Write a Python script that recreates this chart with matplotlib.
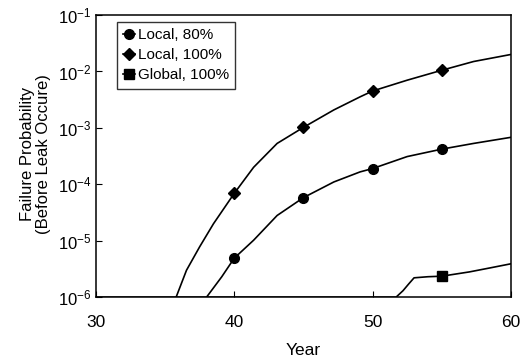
import numpy as np
import matplotlib
matplotlib.use("Agg")
import matplotlib.pyplot as plt

plt.rcParams["font.family"] = ["Liberation Sans", "DejaVu Sans"]
plt.rcParams["mathtext.fontset"] = "custom"
plt.rcParams["mathtext.rm"] = "Liberation Sans"

# Local, 100% (upper curve, diamonds)
local100_years = [35.8, 36.55, 37.5, 38.5, 40, 41.4, 43.1, 45, 47.2, 49.1, 50,
                  52.5, 55, 57.3, 60]
local100_prob = [1e-6, 3.0e-6, 7.8e-6, 2.0e-5, 6.9e-5, 2.0e-4, 5.3e-4, 1.02e-3,
                 2.08e-3, 3.55e-3, 4.5e-3, 7.0e-3, 1.05e-2, 1.5e-2, 2.0e-2]
local100_mark_years = [40, 45, 50, 55]
local100_mark_prob = [6.9e-5, 1.02e-3, 4.5e-3, 1.05e-2]

# Local, 80% (lower curve, circles)
local80_years = [38.0, 39.1, 40, 41.4, 43.1, 45, 47.2, 49.1, 50, 52.5, 55,
                 57.3, 60]
local80_prob = [1e-6, 2.3e-6, 4.9e-6, 1.02e-5, 2.8e-5, 5.8e-5, 1.1e-4, 1.66e-4,
                1.9e-4, 3.1e-4, 4.2e-4, 5.3e-4, 6.8e-4]
local80_mark_years = [40, 45, 50, 55]
local80_mark_prob = [4.9e-6, 5.8e-5, 1.9e-4, 4.2e-4]

# Global, 100% (squares)
global100_years = [30, 51.7, 52.2, 52.6, 53.0, 54.0, 55, 57, 58.5, 60]
global100_prob = [1e-6, 1e-6, 1.3e-6, 1.7e-6, 2.2e-6, 2.3e-6, 2.35e-6, 2.8e-6,
                  3.3e-6, 3.9e-6]
global100_mark_years = [55]
global100_mark_prob = [2.35e-6]

fig = plt.figure(figsize=(5.24, 3.58), dpi=100)
ax = fig.add_axes([0.183, 0.170, 0.792, 0.788])

ax.plot(local80_years, local80_prob, color="black", lw=1.2)
ax.plot(local80_mark_years, local80_mark_prob, "o", color="black", ms=7)

ax.plot(local100_years, local100_prob, color="black", lw=1.2)
ax.plot(local100_mark_years, local100_mark_prob, "D", color="black", ms=6)

ax.plot(global100_years, global100_prob, color="black", lw=1.2)
ax.plot(global100_mark_years, global100_mark_prob, "s", color="black", ms=6.5)

# legend proxies
h1, = ax.plot([], [], "-o", color="black", lw=1.2, ms=7, label="Local, 80%")
h2, = ax.plot([], [], "-D", color="black", lw=1.2, ms=6, label="Local, 100%")
h3, = ax.plot([], [], "-s", color="black", lw=1.2, ms=6.5, label="Global, 100%")
leg = ax.legend(handles=[h1, h2, h3], loc="upper left", bbox_to_anchor=(0.05, 0.975),
                fontsize=11, frameon=True, fancybox=False, handlelength=0.8,
                handletextpad=0.2, borderpad=0.4, labelspacing=0.4,
                borderaxespad=0.0)
leg.get_frame().set_edgecolor("black")
leg.get_frame().set_linewidth(1.0)

ax.set_yscale("log")
ax.set_xlim(30, 60)
ax.set_ylim(1e-6, 1e-1)
ax.set_xticks([30, 40, 50, 60])
ax.minorticks_off()
ax.tick_params(direction="in", length=4)
ax.tick_params(axis="x", labelsize=12.5, pad=13)
ax.tick_params(axis="y", labelsize=12, pad=3)
for s in ax.spines.values():
    s.set_linewidth(1.1)

ax.set_xlabel("Year", fontsize=12.5, labelpad=9)
fig.text(0.068, 0.57, "Failure Probability\n(Before Leak Occure)", rotation=90,
         ha="center", va="center", fontsize=12, linespacing=1.1)

fig.savefig("out.png", dpi=100)
